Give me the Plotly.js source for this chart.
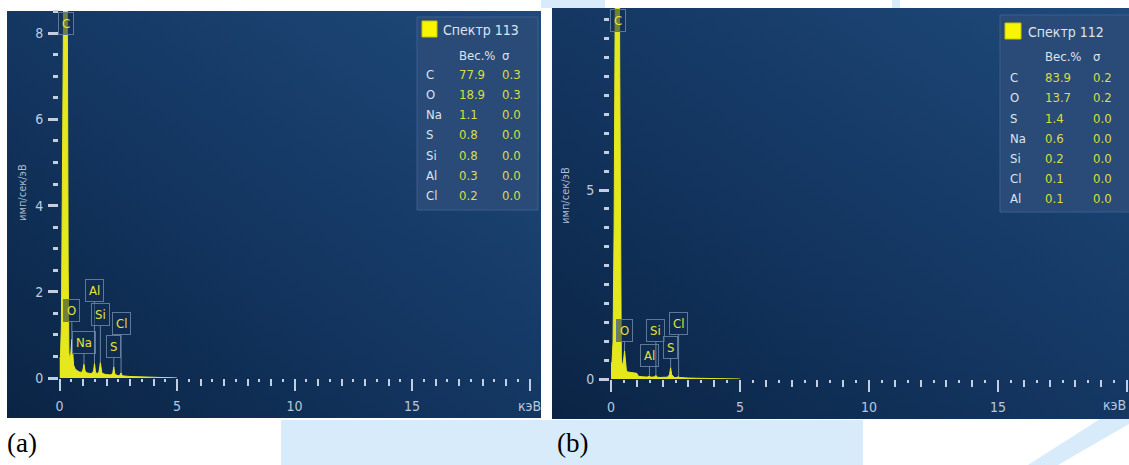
<!DOCTYPE html>
<html>
<head>
<meta charset="utf-8">
<script src="https://cdn.plot.ly/plotly-3.0.1.min.js"></script>
<style>html,body{margin:0;padding:0;background:#fff;}#chart{width:1129px;height:465px;}</style>
</head>
<body>
<div id="chart"></div>
<script>
// ---------- DATA ----------
// Panel (a): Спектр 113
const energyA = [0, 0.04, 0.08, 0.12, 0.16, 0.2, 0.24, 0.277, 0.31, 0.34, 0.37, 0.4, 0.44, 0.48, 0.525, 0.56, 0.6, 0.66, 0.75, 0.85, 0.95, 1.0, 1.04, 1.08, 1.15, 1.25, 1.35, 1.45, 1.49, 1.53, 1.6, 1.68, 1.74, 1.8, 1.9, 2.0, 2.1, 2.2, 2.27, 2.31, 2.35, 2.45, 2.55, 2.62, 2.67, 2.8, 3.0, 3.3, 3.6, 4.0, 4.4, 4.8, 5.0];
const countsA = [0.45, 0.5, 1.2, 4.5, 9.5, 13.0, 14.0, 14.5, 12.0, 7.5, 2.5, 0.6, 0.4, 0.55, 0.9, 0.55, 0.3, 0.22, 0.17, 0.14, 0.13, 0.2, 0.32, 0.18, 0.12, 0.11, 0.1, 0.16, 0.34, 0.14, 0.1, 0.14, 0.36, 0.12, 0.09, 0.08, 0.07, 0.07, 0.12, 0.26, 0.1, 0.06, 0.05, 0.12, 0.05, 0.04, 0.035, 0.03, 0.02, 0.015, 0.01, 0.005, 0];
// Panel (b): Спектр 112
const energyB = [0, 0.04, 0.08, 0.12, 0.16, 0.2, 0.24, 0.277, 0.31, 0.34, 0.37, 0.4, 0.44, 0.48, 0.525, 0.56, 0.6, 0.7, 0.8, 0.9, 1.0, 1.04, 1.08, 1.2, 1.3, 1.4, 1.49, 1.53, 1.6, 1.7, 1.74, 1.78, 1.9, 2.0, 2.1, 2.2, 2.27, 2.31, 2.35, 2.45, 2.55, 2.62, 2.66, 2.8, 3.0, 3.3, 3.6, 4.0, 4.5, 5.0];
const countsB = [0.4, 0.45, 1.0, 4.0, 9.5, 13.5, 14.5, 15.0, 13.0, 8.0, 2.5, 0.55, 0.35, 0.45, 0.75, 0.4, 0.2, 0.18, 0.17, 0.16, 0.15, 0.1, 0.07, 0.06, 0.06, 0.05, 0.08, 0.05, 0.05, 0.06, 0.1, 0.05, 0.04, 0.04, 0.04, 0.05, 0.12, 0.3, 0.12, 0.04, 0.04, 0.07, 0.04, 0.03, 0.025, 0.02, 0.015, 0.01, 0.005, 0];

// Peak labels
const peakLabelsA = ['O', 'Na', 'Al', 'Si', 'S', 'Cl'];
const peakEnergyA = [0.525, 1.04, 1.49, 1.74, 2.31, 2.62];
const peakLabelsB = ['O', 'Al', 'Si', 'S', 'Cl'];
const peakEnergyB = [0.525, 1.49, 1.74, 2.31, 2.62];

// Quantification tables
const titleA = 'Спектр 113';
const elementsA = ['C', 'O', 'Na', 'S', 'Si', 'Al', 'Cl'];
const weightA = ['77.9', '18.9', '1.1', '0.8', '0.8', '0.3', '0.2'];
const sigmaA = ['0.3', '0.3', '0.0', '0.0', '0.0', '0.0', '0.0'];
const titleB = 'Спектр 112';
const elementsB = ['C', 'O', 'S', 'Na', 'Si', 'Cl', 'Al'];
const weightB = ['83.9', '13.7', '1.4', '0.6', '0.2', '0.1', '0.1'];
const sigmaB = ['0.2', '0.2', '0.0', '0.0', '0.0', '0.0', '0.0'];

const xTickValues = [0, 5, 10, 15, 20];
const xTickTextA = ['0', '5', '10', '15', 'кэВ'];
const xTickTextB = ['0', '5', '10', '15', ''];
const xUnit = 'кэВ';
const yAxisTitle = 'имп/сек/эВ';
const panelLabels = ['(a)', '(b)'];

// ---------- LAYOUT HELPERS ----------
const W = 1129, H = 465;
const px = x => x / W;
const py = y => 1 - y / H;
const FONT = 'DejaVu Sans Condensed, Open Sans, Arial, sans-serif';
const TICKC = '#c3cfe0';
const YEL = '#e6e81e';
const VALC = '#d6df46';
const TXT = '#dbe4ef';
const XLABC = '#b9c7da';

// panel geometry (pixels)
const PA = {x0: 7, x1: 541, y0: 11, y1: 418, ax0: 59.5, ax1: 529.5, zeroY: 378, topY: 11, yPerUnit: 43.1, yAxisX: 58};
const PB = {x0: 552, x1: 1129, y0: 8, y1: 419, ax0: 611, ax1: 1127, zeroY: 379, topY: 8, yPerUnit: 37.8, yAxisX: 609};

function valueAt(xs, ys, e) {
  let best = 0, d = 1e9;
  xs.forEach((x, i) => { if (Math.abs(x - e) < d) { d = Math.abs(x - e); best = i; } });
  return ys[best];
}

const gradSvg = "<svg xmlns='http://www.w3.org/2000/svg' width='100' height='100' viewBox='0 0 100 100' preserveAspectRatio='none'><defs><linearGradient id='g' x1='0' y1='1' x2='1' y2='0'><stop offset='0' stop-color='#0a2444'/><stop offset='0.45' stop-color='#133560'/><stop offset='1' stop-color='#1f4a7b'/></linearGradient></defs><rect width='100' height='100' fill='url(#g)'/></svg>";
const gradUri = 'data:image/svg+xml;charset=utf-8,' + encodeURIComponent(gradSvg);

function bgImage(P) {
  return {source: gradUri, xref: 'paper', yref: 'paper', x: px(P.x0), y: py(P.y0),
    sizex: (P.x1 - P.x0) / W, sizey: (P.y1 - P.y0) / H, sizing: 'stretch',
    xanchor: 'left', yanchor: 'top', layer: 'below'};
}

function xAxes(P, ticktext) {
  const dom = [px(P.ax0), px(P.ax1)];
  const main = {domain: dom, range: [0, 20], tickmode: 'array', tickvals: xTickValues, ticktext: ticktext,
    ticks: 'outside', ticklen: 12, tickwidth: 2, tickcolor: TICKC,
    minor: {tickmode: 'linear', tick0: 0, dtick: 1, ticks: 'outside', ticklen: 7, tickwidth: 2, tickcolor: TICKC},
    showgrid: false, zeroline: false, showline: false, fixedrange: true, ticklabeloverflow: 'allow',
    tickfont: {family: FONT, size: 14, color: XLABC}, ticklabelstandoff: 3};
  const small = {range: [0, 20], tickmode: 'linear', tick0: 0, dtick: 0.5, ticks: 'outside', ticklen: 3,
    tickwidth: 2, tickcolor: TICKC, showticklabels: false, showgrid: false, zeroline: false, showline: false, fixedrange: true};
  return [main, small];
}

function yAxis(P, dtick) {
  const top = (P.zeroY - P.topY) / P.yPerUnit;
  return {domain: [py(P.zeroY), py(P.topY)], range: [0, top], anchor: 'free', position: px(P.yAxisX),
    tickmode: 'linear', tick0: 0, dtick: dtick, ticks: 'outside', ticklen: 10, tickwidth: 3, tickcolor: TICKC,
    minor: {tickmode: 'linear', tick0: 0, dtick: 0.5, ticks: 'outside', ticklen: 5, tickwidth: 3, tickcolor: TICKC},
    showgrid: false, zeroline: false, showline: false, fixedrange: true,
    tickfont: {family: FONT, size: 14, color: '#c0ccdd'}, ticklabelstandoff: 2};
}

const [xa, xa3] = xAxes(PA, xTickTextA);
const [xb, xb4] = xAxes(PB, xTickTextB);
xa.anchor = 'y'; xa3.overlaying = 'x'; xa3.anchor = 'y';
xb.anchor = 'y2'; xb4.overlaying = 'x2'; xb4.anchor = 'y2';

const traces = [
  {x: energyA, y: countsA, xaxis: 'x', yaxis: 'y', type: 'scatter', mode: 'lines',
   line: {color: YEL, width: 1}, fill: 'tozeroy', fillcolor: YEL, hoverinfo: 'skip', showlegend: false},
  {x: energyB, y: countsB, xaxis: 'x2', yaxis: 'y2', type: 'scatter', mode: 'lines',
   line: {color: YEL, width: 1}, fill: 'tozeroy', fillcolor: YEL, hoverinfo: 'skip', showlegend: false},
  {x: [], y: [], xaxis: 'x3', yaxis: 'y', type: 'scatter', showlegend: false},
  {x: [], y: [], xaxis: 'x4', yaxis: 'y2', type: 'scatter', showlegend: false}
];

const annotations = [];
const shapes = [];

const labelStyle = {font: {family: FONT, size: 13, color: '#e3e43a'}, bordercolor: '#5e7898', borderwidth: 1,
  borderpad: 3, bgcolor: 'rgba(18,44,82,0.55)'};

function peakLabels(labels, energies, xs, ys, boxY, P, xr, yr) {
  labels.forEach((lab, i) => {
    const h = valueAt(xs, ys, energies[i]);
    const peakPx = P.zeroY - h * P.yPerUnit;
    annotations.push(Object.assign({x: energies[i], y: h, xref: xr, yref: yr, text: lab,
      showarrow: true, arrowhead: 0, arrowwidth: 1, arrowcolor: '#6a83a4', ax: 0, ay: boxY[i] - peakPx,
      axref: 'pixel', ayref: 'pixel', standoff: 0}, labelStyle));
  });
  // carbon label at top of the (clipped) carbon peak
  annotations.push(Object.assign({x: 0.277, y: (P.zeroY - (P.topY + 12)) / P.yPerUnit, xref: xr, yref: yr,
    text: 'C', showarrow: false}, labelStyle));
}
peakLabels(peakLabelsA, peakEnergyA, energyA, countsA, [310, 342, 290, 315, 347, 323], PA, 'x', 'y');
peakLabels(peakLabelsB, peakEnergyB, energyB, countsB, [330, 355, 330, 347, 324], PB, 'x2', 'y2');

// energy unit of panel (b), kept inside the page edge
annotations.push({x: px(1128), y: py(405), xref: 'paper', yref: 'paper', text: xUnit, xanchor: 'right', yanchor: 'middle',
  showarrow: false, font: {family: FONT, size: 14, color: XLABC}});

// y axis titles
[[22, 193], [565, 196]].forEach(([x, y]) => {
  annotations.push({x: px(x), y: py(y), xref: 'paper', yref: 'paper', text: yAxisTitle, textangle: -90,
    xanchor: 'center', yanchor: 'middle',
    showarrow: false, font: {family: FONT, size: 11, color: '#aebdd2'}});
});

// quantification boxes
function table(box, title, els, wts, sig) {
  shapes.push({type: 'rect', xref: 'paper', yref: 'paper', x0: px(box.x0), x1: px(box.x1), y0: py(box.y0), y1: py(box.y1),
    fillcolor: '#2a4b77', line: {color: '#3a5f8e', width: 1}, layer: 'above'});
  shapes.push({type: 'rect', xref: 'paper', yref: 'paper', x0: px(box.sq[0]), x1: px(box.sq[1]), y0: py(box.sq[2]), y1: py(box.sq[3]),
    fillcolor: '#f7f500', line: {color: '#c9c400', width: 1}, layer: 'above'});
  const t = (x, y, s, c, sz) => annotations.push({x: px(x), y: py(y), xref: 'paper', yref: 'paper', text: s,
    xanchor: 'left', yanchor: 'middle', showarrow: false, font: {family: FONT, size: sz || 13, color: c}});
  t(box.tx, box.ty, title, TXT, 14);
  t(box.vx, box.hy, 'Вес.%', TXT, 13);
  t(box.sx, box.hy, 'σ', TXT, 13);
  els.forEach((e, i) => {
    const y = box.ry + i * box.dy;
    t(box.nx, y, e, TXT, 13);
    t(box.vx, y, wts[i], VALC, 13);
    t(box.sx, y, sig[i], VALC, 13);
  });
}
table({x0: 417, x1: 538, y0: 17, y1: 210, sq: [422, 437, 21, 37], tx: 441, ty: 30, hy: 55, ry: 74, dy: 20.3,
  nx: 424, vx: 457, sx: 500}, titleA, elementsA, weightA, sigmaA);
table({x0: 1000, x1: 1132, y0: 15, y1: 212, sq: [1005, 1021, 23, 39], tx: 1026, ty: 32, hy: 57, ry: 78, dy: 20,
  nx: 1008, vx: 1043, sx: 1091}, titleB, elementsB, weightB, sigmaB);

// panel letters
[[22, 443, panelLabels[0]], [572, 443, panelLabels[1]]].forEach(([x, y, s]) => {
  annotations.push({x: px(x), y: py(y), xref: 'paper', yref: 'paper', text: s, showarrow: false,
    xanchor: 'center', yanchor: 'middle',
    font: {family: 'Liberation Serif, Times New Roman, serif', size: 27, color: '#000'}});
});

// light-blue page decoration behind the figures
const LB = '#d7ebfb';
shapes.push({type: 'rect', xref: 'paper', yref: 'paper', x0: px(281), x1: px(863), y0: py(420), y1: py(465), fillcolor: LB, line: {width: 0}, layer: 'below'});
shapes.push({type: 'path', xref: 'paper', yref: 'paper',
  path: `M ${px(1028)} ${py(465)} L ${px(1058)} ${py(465)} L ${px(1129)} ${py(424)} L ${px(1129)} ${py(419)} L ${px(1100)} ${py(419)} Z`,
  fillcolor: LB, line: {width: 0}, layer: 'below'});
shapes.push({type: 'rect', xref: 'paper', yref: 'paper', x0: px(541), x1: px(605), y0: py(0), y1: py(8), fillcolor: LB, line: {width: 0}, layer: 'below'});
shapes.push({type: 'rect', xref: 'paper', yref: 'paper', x0: px(892), x1: px(900), y0: py(0), y1: py(8), fillcolor: LB, line: {width: 0}, layer: 'below'});

const layout = {
  width: W, height: H, margin: {l: 0, r: 0, t: 0, b: 0}, autosize: false,
  paper_bgcolor: '#ffffff', plot_bgcolor: 'rgba(0,0,0,0)', showlegend: false,
  xaxis: xa, xaxis3: xa3, yaxis: yAxis(PA, 2),
  xaxis2: xb, xaxis4: xb4, yaxis2: yAxis(PB, 5),
  images: [bgImage(PA), bgImage(PB)],
  shapes: shapes, annotations: annotations
};

Plotly.newPlot('chart', traces, layout, {staticPlot: true, displayModeBar: false});
</script>
</body>
</html>
